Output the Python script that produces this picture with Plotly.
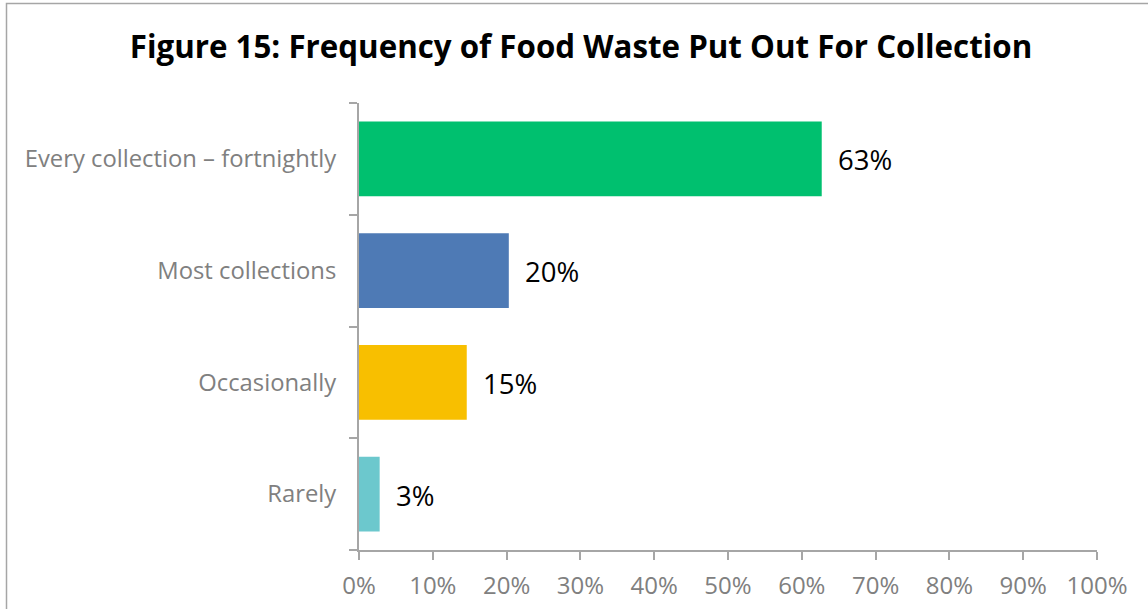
import plotly.graph_objects as go

categories = ["Every collection – fortnightly", "Most collections", "Occasionally", "Rarely"]
values = [62.7, 20.3, 14.6, 2.8]
labels = ["63%", "20%", "15%", "3%"]
colors = ["#00C06F", "#4E7AB5", "#F8BF00", "#6CC8CD"]
x_ticks = [0, 10, 20, 30, 40, 50, 60, 70, 80, 90, 100]
x_ticklabels = [f"{v}%" for v in x_ticks]

FONT = "Open Sans, sans-serif"

fig = go.Figure(go.Bar(
    x=values, y=categories, orientation="h",
    marker=dict(color=colors, line=dict(width=0)),
    width=0.67,
    hoverinfo="skip",
))

for v, c, t in zip(values, categories, labels):
    fig.add_annotation(
        x=v, y=c, text=t, showarrow=False,
        xanchor="left", yanchor="middle", xshift=14, yshift=-1,
        font=dict(family=FONT, size=27.5, color="#000000"),
    )

W, H = 1148, 609
L, R, T, B = 359, 51, 103, 59
pw, ph = W - L - R, H - T - B

def px_x(p):
    return (p - L) / pw

def px_y(p):
    return (H - B - p) / ph

fig.update_layout(
    width=W, height=H,
    margin=dict(l=L, r=R, t=T, b=B, pad=0, autoexpand=False),
    paper_bgcolor="white", plot_bgcolor="white",
    showlegend=False,
    title=dict(
        text="<b>Figure 15: Frequency of Food Waste Put Out For Collection</b>",
        font=dict(family=FONT, size=31.3, color="#000000"),
        x=581 / W, xref="container", xanchor="center",
        y=1 - 47 / H, yref="container", yanchor="middle",
    ),
    xaxis=dict(
        range=[0, 100], tickvals=x_ticks, ticktext=x_ticklabels,
        showgrid=False, zeroline=False, automargin=False,
        showline=True, linecolor="#A6A6A6", linewidth=2,
        ticks="outside", ticklen=8, tickwidth=2, tickcolor="#A6A6A6",
        ticklabelstandoff=5,
        tickfont=dict(family=FONT, size=24, color="#808080"),
        fixedrange=True,
    ),
    yaxis=dict(
        categoryorder="array", categoryarray=categories[::-1],
        showgrid=False, zeroline=False, automargin=False,
        showline=True, linecolor="#A6A6A6", linewidth=2,
        ticks="outside", ticklen=8, tickwidth=2, tickcolor="#A6A6A6",
        tickson="boundaries",
        ticklabelstandoff=16,
        tickfont=dict(family=FONT, size=23.8, color="#808080"),
        fixedrange=True,
    ),
    shapes=[dict(
        type="rect", xref="paper", yref="paper",
        x0=px_x(6.5), x1=px_x(1170), y0=px_y(640), y1=px_y(3.5),
        line=dict(color="#A6A6A6", width=1.5), fillcolor="rgba(0,0,0,0)",
        layer="below",
    )],
)

fig.write_html("out.html")
